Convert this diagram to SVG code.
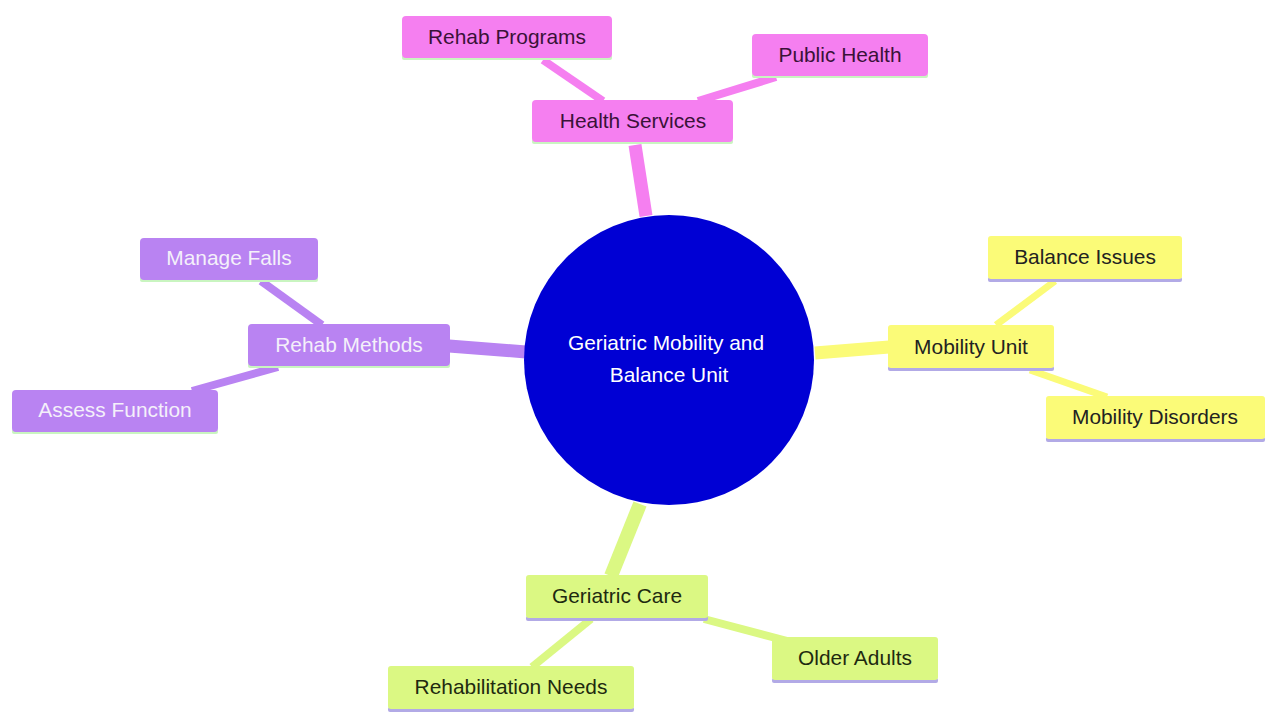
<svg xmlns="http://www.w3.org/2000/svg" width="1266" height="713" viewBox="0 0 1266 713">
<style>
text{font-family:"Liberation Sans",Arial,sans-serif;font-size:20.9px;text-anchor:middle;dominant-baseline:central}
.pink rect.b{fill:#f57ff0}
.purp rect.b{fill:#b983f2}
.yel rect.b{fill:#fbfb78}
.grn rect.b{fill:#dbf883}
.pink rect.l,.purp rect.l{fill:#c9f5c0}
.yel rect.l,.grn rect.l{fill:#b2aae6}
.pink text{fill:#3a1238}
.purp text{fill:#f4f0fa}
.yel text{fill:#222}
.grn text{fill:#1e2a10}
.e{fill:none;stroke-linecap:butt}
.ep{stroke:#f57ff0}.eu{stroke:#b983f2}.ey{stroke:#fbfb78}.eg{stroke:#dbf883}
</style>
<rect width="1266" height="713" fill="#ffffff"/>
<g id="connectors">
<path class="e ep" d="M646 216 L635 145" stroke-width="13"/>
<path class="e ep" d="M543 60 L603 101" stroke-width="8"/>
<path class="e ep" d="M776 77 L698 101" stroke-width="8"/>
<path class="e eu" d="M526 352 L449 346" stroke-width="13"/>
<path class="e eu" d="M261 281 L322 325" stroke-width="8"/>
<path class="e eu" d="M192 391 L278 367" stroke-width="8"/>
<path class="e ey" d="M815 353 L889 347" stroke-width="13"/>
<path class="e ey" d="M1055 281 L996 325" stroke-width="7"/>
<path class="e ey" d="M1030 370 L1107 397" stroke-width="7"/>
<path class="e eg" d="M640 504 L611 576" stroke-width="14"/>
<path class="e eg" d="M591 619 L532 667" stroke-width="8"/>
<path class="e eg" d="M704 619 L795 643" stroke-width="8"/>
</g>
<g id="root">
<circle cx="669" cy="360" r="145" fill="#0000d4"/>
<text x="666" y="342" fill="#ffffff">Geriatric Mobility and</text>
<text x="669" y="374" fill="#ffffff">Balance Unit</text>
</g>
<g id="health-services" class="pink"><rect class="l" x="532" y="139" width="201" height="5" rx="2"/><rect class="b" x="532" y="100" width="201" height="42" rx="4"/><text x="633" y="120">Health Services</text></g>
<g id="rehab-programs" class="pink"><rect class="l" x="402" y="55" width="210" height="5" rx="2"/><rect class="b" x="402" y="16" width="210" height="42" rx="4"/><text x="507" y="36">Rehab Programs</text></g>
<g id="public-health" class="pink"><rect class="l" x="752" y="73" width="176" height="5" rx="2"/><rect class="b" x="752" y="34" width="176" height="42" rx="4"/><text x="840" y="54">Public Health</text></g>
<g id="rehab-methods" class="purp"><rect class="l" x="248" y="363" width="202" height="5" rx="2"/><rect class="b" x="248" y="324" width="202" height="42" rx="4"/><text x="349" y="344">Rehab Methods</text></g>
<g id="manage-falls" class="purp"><rect class="l" x="140" y="277" width="178" height="5" rx="2"/><rect class="b" x="140" y="238" width="178" height="42" rx="4"/><text x="229" y="257">Manage Falls</text></g>
<g id="assess-function" class="purp"><rect class="l" x="12" y="429" width="206" height="5" rx="2"/><rect class="b" x="12" y="390" width="206" height="42" rx="4"/><text x="115" y="409">Assess Function</text></g>
<g id="mobility-unit" class="yel"><rect class="l" x="888" y="366" width="166" height="5" rx="2"/><rect class="b" x="888" y="325" width="166" height="43" rx="3"/><text x="971" y="346">Mobility Unit</text></g>
<g id="balance-issues" class="yel"><rect class="l" x="988" y="277" width="194" height="5" rx="2"/><rect class="b" x="988" y="236" width="194" height="43" rx="3"/><text x="1085" y="256">Balance Issues</text></g>
<g id="mobility-disorders" class="yel"><rect class="l" x="1046" y="437" width="219" height="5" rx="2"/><rect class="b" x="1046" y="396" width="219" height="43" rx="3"/><text x="1155" y="416">Mobility Disorders</text></g>
<g id="geriatric-care" class="grn"><rect class="l" x="526" y="616" width="182" height="5" rx="2"/><rect class="b" x="526" y="575" width="182" height="43" rx="3"/><text x="617" y="595">Geriatric Care</text></g>
<g id="older-adults" class="grn"><rect class="l" x="772" y="678" width="166" height="5" rx="2"/><rect class="b" x="772" y="637" width="166" height="43" rx="3"/><text x="855" y="657">Older Adults</text></g>
<g id="rehabilitation-needs" class="grn"><rect class="l" x="388" y="707" width="246" height="5" rx="2"/><rect class="b" x="388" y="666" width="246" height="43" rx="3"/><text x="511" y="686">Rehabilitation Needs</text></g>
</svg>
